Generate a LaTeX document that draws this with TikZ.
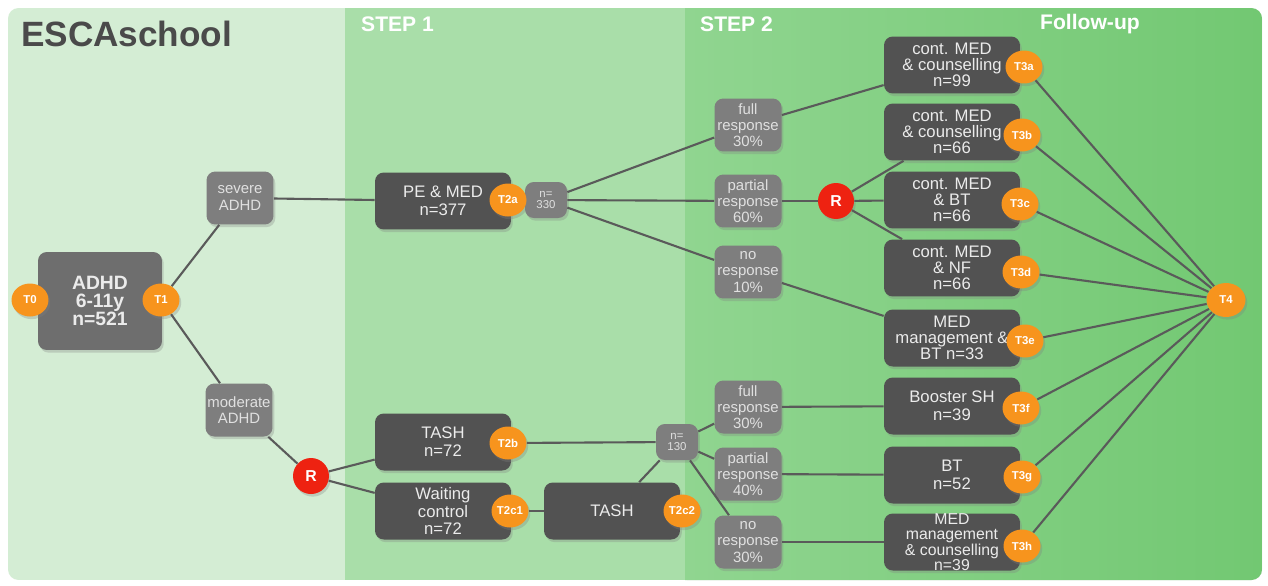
\documentclass[tikz,border=0pt]{standalone}
\usepackage{fontspec}
\setmainfont{Liberation Sans}
\usetikzlibrary{shapes.geometric,shadows}
\definecolor{panelone}{HTML}{D4EDD4}
\definecolor{paneltwo}{HTML}{A9DEA9}
\definecolor{panelthree}{HTML}{90D590}
\definecolor{panelfour}{HTML}{72C872}
\definecolor{darkbox}{HTML}{525252}
\definecolor{midbox}{HTML}{7E7E7E}
\definecolor{rootbox}{HTML}{6E6E6E}
\definecolor{tagorange}{HTML}{F7941D}
\definecolor{randred}{HTML}{EE2211}
\definecolor{linkgray}{HTML}{5A5A5A}
\definecolor{titlegray}{HTML}{4A4A4A}

\begin{document}
\begin{tikzpicture}[x=0.02cm, y=-0.02cm,
    every node/.style={font=\fontsize{9.5}{10.2}\selectfont},
    shade/.style={drop shadow={opacity=0.3, shadow xshift=1pt, shadow yshift=-1.5pt}},
    treat/.style={rectangle, rounded corners=5pt, fill=darkbox, text=white!92!black,
                  align=center, minimum width=2.72cm, minimum height=1.14cm,
                  inner xsep=1pt, inner ysep=1pt, shade},
    tight/.style={font=\fontsize{9.5}{9}\selectfont},
    resp/.style={rectangle, rounded corners=5pt, fill=midbox, text=white!88!black,
                 align=center, minimum width=1.34cm, minimum height=1.06cm,
                 inner sep=1pt, font=\fontsize{8.5}{9.2}\selectfont, shade},
    count/.style={resp, minimum width=0.84cm, minimum height=0.72cm,
                  font=\fontsize{6.5}{6.3}\selectfont},
    tag/.style={ellipse, fill=tagorange, text=white, inner sep=0pt,
                minimum width=0.74cm, minimum height=0.66cm,
                font=\bfseries\fontsize{6.5}{7}\selectfont, shade},
    rnd/.style={circle, fill=randred, text=white, inner sep=0pt, minimum size=0.72cm,
                font=\bfseries\fontsize{9}{9}\selectfont, shade},
    steptitle/.style={anchor=west, text=white, font=\bfseries\fontsize{12}{12}\selectfont},
    link/.style={draw=linkgray, line width=1.2pt}]

  \useasboundingbox (0,0) rectangle (1268,585);

  %% panels
  \begin{scope}
    \clip[rounded corners=6pt] (8,8) rectangle (1262,580);
    \fill[panelone] (8,8) rectangle (345,580);
    \fill[paneltwo] (345,8) rectangle (685,580);
    \shade[left color=panelthree, right color=panelfour] (685,8) rectangle (1262,580);
  \end{scope}

  %% titles
  \node[anchor=west, text=titlegray, font=\bfseries\fontsize{20}{20}\selectfont]
    (ttlschool) at (15,34) {ESCAschool};
  \node[steptitle] (ttlone) at (355,24) {STEP 1};
  \node[steptitle] (ttltwo) at (694,24) {STEP 2};
  \node[steptitle] (ttlfollow) at (1034,24) {Follow-up};

  %% start
  \node[treat, fill=rootbox, minimum width=2.48cm, minimum height=1.96cm,
        font=\bfseries\fontsize{11}{10}\selectfont] (adhd) at (100,301)
    {ADHD\\6-11y\\n=521};
  \node[tag] (t0) at (30,300) {T0};
  \node[tag] (t1) at (161,300) {T1};
  \node[resp] (severe) at (240,198) {severe\\ADHD};
  \node[resp] (moderate) at (239,410) {moderate\\ADHD};
  \node[rnd] (rlow) at (311,476) {R};

  %% step 1
  \node[treat] (pemed) at (443,201) {PE \& MED\\n=377};
  \node[count] (n330) at (546,200) {n=\\330};
  \node[tag] (t2a) at (508,200) {T2a};
  \node[treat] (tashb) at (443,442) {TASH\\n=72};
  \node[tag] (t2b) at (508,443) {T2b};
  \node[treat] (wait) at (443,511) {Waiting\\control\\n=72};
  \node[tag] (t2ca) at (510,511) {T2c1};
  \node[treat] (tashc) at (612,511) {TASH};
  \node[tag] (t2cb) at (682,511) {T2c2};
  \node[count] (n130) at (677,442) {n=\\130};

  %% step 2
  \node[resp] (fullA) at (748,125) {full\\response\\30\%};
  \node[resp] (partA) at (748,201) {partial\\response\\60\%};
  \node[resp] (noA) at (748,272) {no\\response\\10\%};
  \node[resp] (fullB) at (748,407) {full\\response\\30\%};
  \node[resp] (partB) at (748,474) {partial\\response\\40\%};
  \node[resp] (noB) at (748,542) {no\\response\\30\%};
  \node[rnd] (rup) at (836,201) {R};

  \node[treat, tight] (b3a) at (952,65) {cont. MED\\\& counselling\\n=99};
  \node[treat, tight] (b3b) at (952,132) {cont. MED\\\& counselling\\n=66};
  \node[treat, tight] (b3c) at (952,200) {cont. MED\\\& BT\\n=66};
  \node[treat, tight] (b3d) at (952,268) {cont. MED\\\& NF\\n=66};
  \node[treat, tight] (b3e) at (952,338) {MED\\management \&\\BT n=33};
  \node[treat] (b3f) at (952,406) {Booster SH\\n=39};
  \node[treat] (b3g) at (952,475) {BT\\n=52};
  \node[treat, inner ysep=0pt, font=\fontsize{9}{8.2}\selectfont] (b3h) at (952,542)
    {MED\\management\\\& counselling\\n=39};

  \node[tag] (t3a) at (1024,67) {T3a};
  \node[tag] (t3b) at (1022,135) {T3b};
  \node[tag] (t3c) at (1020,204) {T3c};
  \node[tag] (t3d) at (1021,272) {T3d};
  \node[tag] (t3e) at (1025,341) {T3e};
  \node[tag] (t3f) at (1021,408) {T3f};
  \node[tag] (t3g) at (1022,477) {T3g};
  \node[tag] (t3h) at (1022,546) {T3h};

  %% follow-up
  \node[tag, minimum width=0.78cm, minimum height=0.68cm] (t4) at (1226,300) {T4};

  %% connectors
  \draw[link] (t1) -- (severe);
  \draw[link] (t1) -- (moderate);
  \draw[link] (severe) -- (pemed);
  \draw[link] (moderate) -- (rlow);
  \draw[link] (rlow) -- (tashb);
  \draw[link] (rlow) -- (wait);
  \foreach \r in {fullA,partA,noA}
    \draw[link] (n330) -- (\r);
  \draw[link] (fullA) -- (b3a);
  \draw[link] (partA) -- (rup);
  \foreach \b in {b3b,b3c,b3d}
    \draw[link] (rup) -- (\b);
  \draw[link] (noA) -- (b3e);
  \draw[link] (t2b) -- (n130);
  \draw[link] (t2ca) -- (tashc);
  \draw[link] (tashc) -- (n130);
  \foreach \r in {fullB,partB,noB}
    \draw[link] (n130) -- (\r);
  \draw[link] (fullB) -- (b3f);
  \draw[link] (partB) -- (b3g);
  \draw[link] (noB) -- (b3h);
  \foreach \t in {t3a,t3b,t3c,t3d,t3e,t3f,t3g,t3h}
    \draw[link] (\t) -- (t4);

\end{tikzpicture}
\end{document}
